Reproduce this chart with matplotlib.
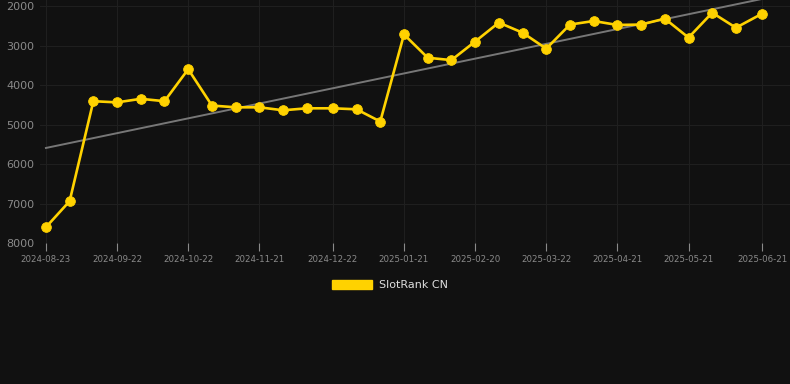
import matplotlib
matplotlib.use("Agg")
import matplotlib.pyplot as plt
import matplotlib.dates as mdates
from matplotlib.patches import Patch
import numpy as np
import datetime as dt

dates = ["2024-08-23", "2024-09-02", "2024-09-12", "2024-09-22", "2024-10-02", "2024-10-12",
         "2024-10-22", "2024-11-01", "2024-11-11", "2024-11-21", "2024-12-01", "2024-12-11",
         "2024-12-22", "2025-01-01", "2025-01-11", "2025-01-21", "2025-01-31", "2025-02-10",
         "2025-02-20", "2025-03-02", "2025-03-12", "2025-03-22", "2025-04-01", "2025-04-11",
         "2025-04-21", "2025-05-01", "2025-05-11", "2025-05-21", "2025-05-31", "2025-06-10",
         "2025-06-21"]
ranks = [7600, 6940, 4410, 4440, 4350, 4410, 3600, 4520, 4565, 4565, 4640, 4590,
         4590, 4615, 4925, 2720, 3310, 3370, 2900, 2420, 2675, 3080, 2470, 2380,
         2480, 2470, 2320, 2800, 2170, 2550, 2195]
tick_labels = ["2024-08-23", "2024-09-22", "2024-10-22", "2024-11-21", "2024-12-22",
               "2025-01-21", "2025-02-20", "2025-03-22", "2025-04-21", "2025-05-21",
               "2025-06-21"]
y_ticks = [2000, 3000, 4000, 5000, 6000, 7000, 8000]
series_name = "SlotRank CN"

bg = "#111111"
gold = "#FFD200"

x = [dt.datetime.strptime(d, "%Y-%m-%d") for d in dates]
xn = mdates.date2num(x)

fig = plt.figure(figsize=(7.9, 3.84), dpi=100, facecolor=bg)
ax = fig.add_axes([40/790, 1 - 243/384, 750/790, 243/384])
ax.set_facecolor(bg)

# trend line (linear regression)
coef = np.polyfit(xn, ranks, 1)
ax.plot([xn[0], xn[-1]], np.polyval(coef, [xn[0], xn[-1]]), color="#777777", lw=1.4, zorder=2)

ax.plot(xn, ranks, color=gold, lw=1.9, marker="o", markersize=7, markeredgewidth=0.6,
        zorder=3)

ax.set_ylim(8000, 1848)
ax.set_xlim(xn[0] - 2.5, xn[-1] + 11.8)
ax.set_yticks(y_ticks)
ax.set_yticklabels([str(v) for v in y_ticks])
tick_x = mdates.date2num([dt.datetime.strptime(d, "%Y-%m-%d") for d in tick_labels])
ax.set_xticks(tick_x)
ax.set_xticklabels(tick_labels)

ax.grid(True, color="#1f1f1f", lw=0.8)
for s in ax.spines.values():
    s.set_visible(False)
ax.tick_params(axis="y", colors="#8a8a8a", labelsize=8, length=0, pad=4)
ax.tick_params(axis="x", colors="#8a8a8a", labelsize=6.2, length=6, width=0.8, pad=3)
for t in ax.get_xticklines():
    t.set_color("#1f1f1f")

leg = fig.legend(handles=[Patch(facecolor=gold, edgecolor=gold)], labels=[series_name],
                 loc="center", bbox_to_anchor=(390/790, 1 - 285/384), frameon=False,
                 fontsize=8, handlelength=3.6, handleheight=0.9, labelcolor="#dddddd",
                 handletextpad=0.6)

fig.savefig("out.png", dpi=100, facecolor=bg)
